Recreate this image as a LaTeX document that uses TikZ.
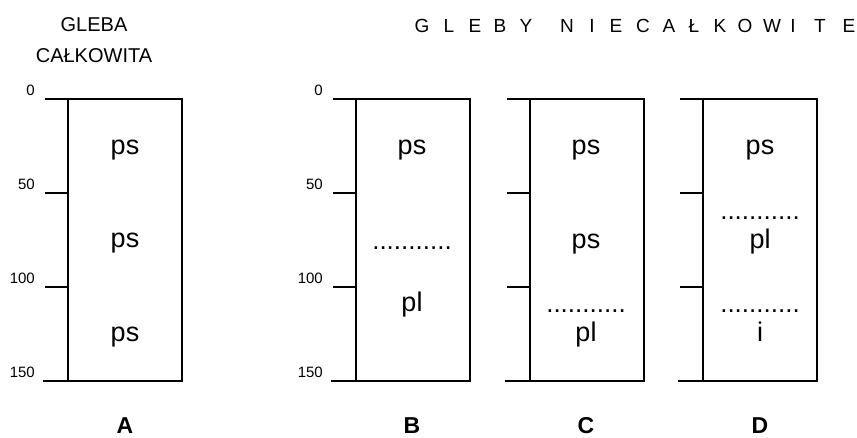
\documentclass[tikz,border=0pt]{standalone}
\usepackage{fontspec}
\setmainfont{Liberation Sans}
\begin{document}
\begin{tikzpicture}[x=1pt,y=-1pt,
  lbl/.style={inner sep=0pt, anchor=base},
  soil/.style={lbl, font=\fontsize{27}{27}\selectfont},
  dots/.style={lbl, font=\fontsize{26}{26}\selectfont},
  dep/.style={inner sep=0pt, anchor=base east, font=\fontsize{15}{15}\selectfont},
  head/.style={lbl, font=\fontsize{20}{20}\selectfont},
  spaced/.style={lbl, font=\fontsize{19}{19}\selectfont},
  pan/.style={lbl, font=\fontsize{23}{23}\selectfont\bfseries},
  ln/.style={line width=1.8pt},
]
\useasboundingbox (0,0) rectangle (857,437);

% columns
\foreach \L/\n in {68/A,356/B,530/C,703/D}{
  \coordinate (tl\n) at (\L,99);
  \coordinate (bl\n) at (\L,381);
  \draw[ln] (tl\n) rectangle ++(114,282);
  \draw[ln] (\L-23,99) -- (tl\n);
  \draw[ln] (\L-23,193) -- (\L,193);
  \draw[ln] (\L-23,287) -- (\L,287);
  \draw[ln] (\L-25,381) -- (bl\n);
}

% headings
\node[head] (h1) at (94,31) {GLEBA};
\node[head] (h2) at (94,62) {CAŁKOWITA};
\foreach \x/\c [count=\i] in {422/G,449/L,475/E,500/B,526/Y,567/N,592/I,616/E,643/C,669/A,694/Ł,720/K,745/O,772/W,793/I,820/T,849/E}{
  \node[spaced] (t\i) at (\x,32) {\c};
}

% depth labels
\foreach \X/\n in {35/a,323/b}{
  \node[dep] (d0\n) at (\X,95) {0};
  \node[dep] (d50\n) at (\X,189) {50};
  \node[dep] (d100\n) at (\X,283) {100};
  \node[dep] (d150\n) at (\X,377) {150};
}

% column A
\node[soil] (a1) at (125,154) {ps};
\node[soil] (a2) at (125,247) {ps};
\node[soil] (a3) at (125,341) {ps};
% column B
\node[soil] (b1) at (412,154) {ps};
\node[dots] (b2) at (412,249) {...........};
\node[soil] (b3) at (412,311) {pl};
% column C
\node[soil] (c1) at (586,154) {ps};
\node[soil] (c2) at (586,248) {ps};
\node[dots] (c3) at (586,312) {...........};
\node[soil] (c4) at (586,341) {pl};
% column D
\node[soil] (e1) at (760,154) {ps};
\node[dots] (e2) at (760,219) {...........};
\node[soil] (e3) at (760,248) {pl};
\node[dots] (e4) at (760,312) {...........};
\node[soil] (e5) at (760,341) {i};

% panel letters
\node[pan] (pA) at (125,433) {A};
\node[pan] (pB) at (412,433) {B};
\node[pan] (pC) at (586,433) {C};
\node[pan] (pD) at (760,433) {D};
\end{tikzpicture}
\end{document}
